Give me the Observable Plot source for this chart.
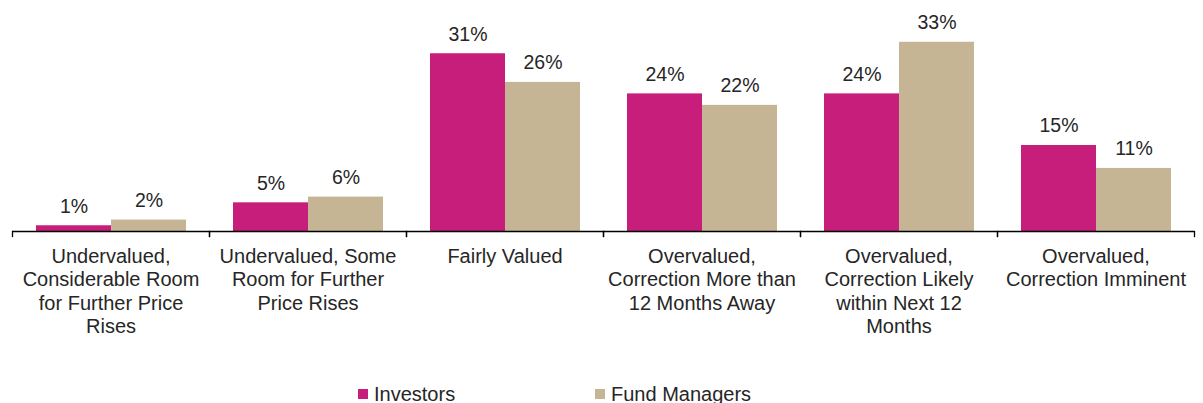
<!DOCTYPE html>
<html>
<head>
<meta charset="utf-8">
<script src="https://cdn.jsdelivr.net/npm/d3@7"></script>
<script src="https://cdn.jsdelivr.net/npm/@observablehq/plot@0.6"></script>
<style>
  body { margin: 0; background: #fff; font-family: "Liberation Sans", Arial, sans-serif; overflow: hidden; }
  #chart svg { display: block; }
  .legend { display: flex; align-items: center; height: 28px; margin-top: 5px; padding-left: 358px; font-size: 20px; color: #262626; }
  .legend .item { display: flex; align-items: center; }
  .legend .sw { width: 10px; height: 10px; margin-right: 6px; }
</style>
</head>
<body>
<div id="chart"></div>
<div class="legend" id="legend"></div>
<script>
const categories = [
  "Undervalued, Considerable Room for Further Price Rises",
  "Undervalued, Some Room for Further Price Rises",
  "Fairly Valued",
  "Overvalued, Correction More than 12 Months Away",
  "Overvalued, Correction Likely within Next 12 Months",
  "Overvalued, Correction Imminent"
];
const categoryLabels = [
  "Undervalued,\nConsiderable Room\nfor Further Price\nRises",
  "Undervalued, Some\nRoom for Further\nPrice Rises",
  "Fairly Valued",
  "Overvalued,\nCorrection More than\n12 Months Away",
  "Overvalued,\nCorrection Likely\nwithin Next 12\nMonths",
  "Overvalued,\nCorrection Imminent"
];
const series = ["Investors", "Fund Managers"];
const investors = [1, 5, 31, 24, 24, 15];
const fundManagers = [2, 6, 26, 22, 33, 11];
const colors = ["#C71D7B", "#C6B594"];

const rows = [];
categories.forEach((c, i) => {
  rows.push({category: c, series: series[0], value: investors[i]});
  rows.push({category: c, series: series[1], value: fundManagers[i]});
});
const labelOf = new Map(categories.map((c, i) => [c, categoryLabels[i]]));

const textColor = "#262626";
const chart = Plot.plot({
  width: 1203,
  height: 375,
  marginTop: 20,
  marginBottom: 144,
  marginLeft: 10,
  marginRight: 7,
  style: {fontFamily: "'Liberation Sans', Arial, sans-serif", background: "#fff"},
  fx: {domain: categories, axis: null, paddingInner: 0, paddingOuter: 0},
  x: {domain: series, axis: null, paddingInner: 0, paddingOuter: 0.3},
  y: {domain: [0, 36.8], axis: null},
  color: {domain: series, range: colors},
  marks: [
    Plot.barY(rows, {fx: "category", x: "series", y: "value", fill: "series"}),
    Plot.text(rows, {fx: "category", x: "series", y: "value", text: d => d.value + "%", dy: -19.5, fontSize: 19.5, fill: textColor}),
    Plot.ruleY([0], {stroke: "#000", strokeWidth: 1.3}),
    Plot.frame({anchor: "left", insetTop: 211, insetBottom: -5, stroke: "#000", strokeWidth: 1.3}),
    Plot.frame({anchor: "right", insetTop: 211, insetBottom: -5, stroke: "#000", strokeWidth: 1.3}),
    Plot.text(categories, {fx: d => d, frameAnchor: "bottom", dy: 14.5, lineAnchor: "top", lineHeight: 1.175,
      text: d => labelOf.get(d), fontSize: 20, fill: textColor})
  ]
});
document.getElementById("chart").appendChild(chart);

const legend = document.getElementById("legend");
series.forEach((s, i) => {
  const item = document.createElement("div");
  item.className = "item";
  if (i === 0) item.style.width = "237px";
  const sw = document.createElement("span");
  sw.className = "sw";
  sw.style.background = colors[i];
  const t = document.createElement("span");
  t.textContent = s;
  item.appendChild(sw);
  item.appendChild(t);
  legend.appendChild(item);
});
</script>
</body>
</html>
